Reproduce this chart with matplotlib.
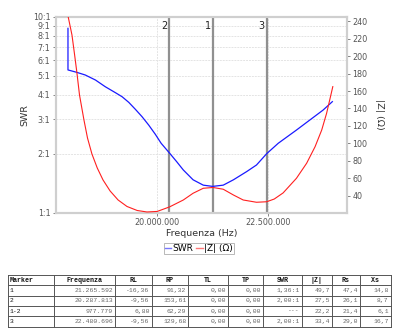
import matplotlib
matplotlib.use("Agg")
import matplotlib.pyplot as plt
from matplotlib.lines import Line2D

# ---- data (frequencies in MHz) ----
swr_freq = [18.00, 18.00, 18.20, 18.39, 18.62, 18.84, 19.07, 19.22, 19.37, 19.52,
            19.67, 19.82, 19.97, 20.10, 20.30, 20.45, 20.60, 20.82, 21.05, 21.26,
            21.50, 21.73, 22.03, 22.25, 22.48, 22.74, 23.15, 23.45, 23.75, 23.96]
swr_vals = [8.75, 5.36, 5.21, 5.05, 4.76, 4.40, 4.10, 3.91, 3.66, 3.37,
            3.09, 2.80, 2.51, 2.26, 2.00, 1.82, 1.65, 1.47, 1.38, 1.36,
            1.38, 1.47, 1.62, 1.75, 2.00, 2.26, 2.64, 2.97, 3.34, 3.69]

z_freq = [18.00, 18.09, 18.15, 18.20, 18.26, 18.36, 18.44, 18.54, 18.66, 18.79,
          18.95, 19.13, 19.33, 19.56, 19.78, 20.01, 20.29, 20.60, 20.82, 21.05,
          21.27, 21.50, 21.73, 21.95, 22.25, 22.48, 22.65, 22.85, 23.15, 23.38,
          23.57, 23.72, 23.83, 23.90, 23.97]
z_vals = [246.0, 224.0, 201.1, 181.4, 155.4, 126.9, 106.3, 88.0, 72.0, 58.3,
          45.7, 35.4, 28.0, 23.4, 21.7, 22.3, 27.5, 35.4, 43.1, 48.8,
          49.7, 47.7, 41.1, 35.4, 32.8, 33.4, 36.5, 43.5, 60.2, 77.4,
          96.3, 115.4, 134.5, 149.7, 165.0]

marker_names = ["2", "1", "3"]
marker_freqs = [20.287813, 21.265592, 22.480696]

swr_ticks = [1, 2, 3, 4, 5, 6, 7, 8, 9, 10]
swr_tick_labels = ["1:1", "2:1", "3:1", "4:1", "5:1", "6:1", "7:1", "8:1", "9:1", "10:1"]
z_ticks = [40, 60, 80, 100, 120, 140, 160, 180, 200, 220, 240]
x_ticks = [20.0, 22.5]

table_header = ["Marker", "Frequenza", "RL", "RP", "TL", "TP", "SWR", "|Z|", "Rs", "Xs"]
table_rows = [
    ["1", "21.265.592", "-16,36", "91,32", "0,00", "0,00", "1,36:1", "49,7", "47,4", "14,8"],
    ["2", "20.287.813", "-9,56", "153,61", "0,00", "0,00", "2,00:1", "27,5", "26,1", "8,7"],
    ["1-2", "977.779", "6,80", "62,29", "0,00", "0,00", "---", "22,2", "21,4", "6,1"],
    ["3", "22.480.696", "-9,56", "129,68", "0,00", "0,00", "2,00:1", "33,4", "29,0", "16,7"],
]
col_widths = [46, 60.7, 36.7, 36.6, 40, 35, 38.4, 30, 28.3, 30.7]

# ---- figure ----
plt.rcParams['font.family'] = ['DejaVu Sans']
W, H = 400, 334
fig = plt.figure(figsize=(W / 100, H / 100), dpi=100)

def fx(px):
    return px / W

def fy(py):
    return 1 - py / H

L, R, T, B = 56, 347, 17, 212.5
ax = fig.add_axes([fx(L), fy(B), fx(R - L), (B - T) / H])
ax2 = ax.twinx()

blue = "#1a1aff"
red = "#ff2020"
tick_col = "#555555"

ax.set_yscale("log")
ax.set_ylim(1, 10)
ax.set_xlim(17.73, 24.29)
ax.yaxis.set_major_locator(matplotlib.ticker.FixedLocator(swr_ticks))
ax.yaxis.set_major_formatter(matplotlib.ticker.FixedFormatter(swr_tick_labels))
ax.yaxis.set_minor_locator(matplotlib.ticker.NullLocator())
ax.set_xticks(x_ticks)
ax.set_xticklabels([f"{int(round(v * 1e6)):,}".replace(",", ".") for v in x_ticks])

ax2.set_ylim(21.1, 244.6)
ax2.set_yticks(z_ticks)

ax.grid(True, color="#e4e4e4", lw=0.7, ls=(0, (2, 1)))
ax.set_axisbelow(True)

for a in (ax, ax2):
    a.tick_params(labelsize=5.8, colors=tick_col, length=2, width=0.5, pad=2)
    for s in a.spines.values():
        s.set_color("#cfcfcf")
        s.set_linewidth(1.5)

for name, f in zip(marker_names, marker_freqs):
    ax.axvline(f, color="#909090", lw=1.6, zorder=1.5)
    ax.text(f - 0.05, 9.0, name, ha="right", va="center", fontsize=7, color="#222222")

ax.plot(swr_freq, swr_vals, color=blue, lw=0.9, zorder=3, solid_joinstyle="round")
ax2.plot(z_freq, z_vals, color=red, lw=0.8, zorder=3, solid_joinstyle="round")

ax.set_ylabel("SWR", fontsize=6.8, color="#333333")
ax.yaxis.set_label_coords(-0.09, 0.5)
ax2.set_ylabel("|Z| (Ω)", fontsize=6.8, color="#333333", rotation=270, va="bottom")
ax2.yaxis.set_label_coords(1.095, 0.5)
ax.set_xlabel("Frequenza (Hz)", fontsize=6.8, color="#333333")
ax.xaxis.set_label_coords(0.5, -0.085)

handles = [Line2D([], [], color="#7777ff", lw=1), Line2D([], [], color="#ff7777", lw=1)]
leg = fig.legend(handles, ["SWR", "|Z| (Ω)"], loc="center", bbox_to_anchor=(fx(199), fy(248.5)),
                 ncol=2, fontsize=6.5, frameon=True, fancybox=False, handlelength=0.7,
                 handletextpad=0.15, columnspacing=0.3, borderpad=0.15, borderaxespad=0)
leg.get_frame().set_edgecolor("#999999")
leg.get_frame().set_linewidth(0.6)

# ---- table ----
tx0, tx1, ty0, ty1 = 8.3, 390.7, 275, 326.7
tax = fig.add_axes([fx(tx0), fy(ty1), fx(tx1 - tx0), (ty1 - ty0) / H])
tax.set_xlim(0, sum(col_widths))
nrows = len(table_rows) + 1
tax.set_ylim(nrows, 0)
tax.axis("off")
edges = [0]
for w in col_widths:
    edges.append(edges[-1] + w)
for r in range(nrows + 1):
    tax.plot([0, edges[-1]], [r, r], color="#555555", lw=0.7, clip_on=False)
for e in edges:
    tax.plot([e, e], [0, nrows], color="#555555", lw=0.7, clip_on=False)
mono = "Liberation Mono"
for c, h in enumerate(table_header):
    if c == 0:
        tax.text(edges[c] + 1.5, 0.5, h, ha="left", va="center", fontsize=4.8,
                 family=mono, fontweight="bold", color="#111111")
    else:
        tax.text((edges[c] + edges[c + 1]) / 2, 0.5, h, ha="center", va="center",
                 fontsize=4.8, family=mono, fontweight="bold", color="#111111")
for r, row in enumerate(table_rows):
    for c, v in enumerate(row):
        if c == 0:
            tax.text(edges[c] + 1.5, r + 1.5, v, ha="left", va="center", fontsize=4.6,
                     family=mono, color="#111111")
        else:
            tax.text(edges[c + 1] - 2, r + 1.5, v, ha="right", va="center", fontsize=4.6,
                     family=mono, color="#666666")

fig.savefig("out.png", dpi=100)
